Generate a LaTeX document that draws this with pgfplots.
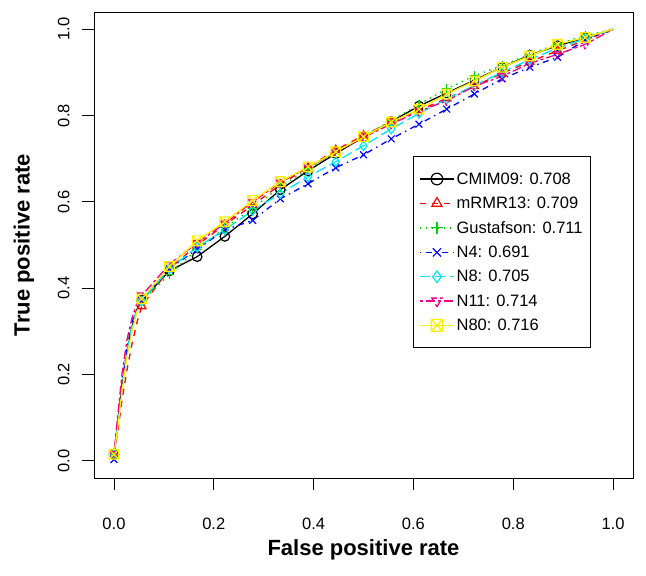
\documentclass[border=0pt]{standalone}
\usepackage{fontspec}
\setmainfont{Liberation Sans}
\usepackage{pgfplots}
\pgfplotsset{compat=1.18}
\pgfdeclareplotmark{boxx}{%
  \pgfpathrectangle{\pgfpoint{-\pgfplotmarksize}{-\pgfplotmarksize}}{\pgfpoint{2\pgfplotmarksize}{2\pgfplotmarksize}}%
  \pgfpathmoveto{\pgfpoint{-\pgfplotmarksize}{-\pgfplotmarksize}}\pgfpathlineto{\pgfpoint{\pgfplotmarksize}{\pgfplotmarksize}}%
  \pgfpathmoveto{\pgfpoint{-\pgfplotmarksize}{\pgfplotmarksize}}\pgfpathlineto{\pgfpoint{\pgfplotmarksize}{-\pgfplotmarksize}}%
  \pgfusepathqstroke}
\definecolor{rgreen}{RGB}{0,205,0}
\definecolor{rcyan}{RGB}{0,230,240}
\definecolor{ryellow}{RGB}{255,240,0}
\begin{document}
\begin{tikzpicture}
\begin{axis}[
  scale only axis, width=539pt, height=466pt,
  xmin=-0.04, xmax=1.04, ymin=-0.04, ymax=1.04,
  xtick={0,0.2,0.4,0.6,0.8,1}, ytick={0,0.2,0.4,0.6,0.8,1},
  xtick pos=bottom, ytick pos=left,
  tick align=outside, major tick length=12pt,
  tick style={black, line width=0.8pt},
  axis line style={line width=0.8pt},
  /pgf/number format/fixed, /pgf/number format/fixed zerofill, /pgf/number format/precision=1,
  /pgf/number format/assume math mode=true,
  ticklabel style={font=\fontsize{16.5}{16.5}\selectfont},
  xticklabel style={anchor=north, yshift=-24pt},
  yticklabel style={rotate=90, anchor=south, xshift=0pt, yshift=9pt},
  xlabel={\bfseries False positive rate},
  ylabel={\bfseries True positive rate},
  xlabel style={at={(axis description cs:0.5,-0.1545)}, anchor=center, font=\fontsize{22}{22}\selectfont},
  ylabel style={at={(axis description cs:-0.1300,0.5)}, anchor=center, font=\fontsize{22}{22}\selectfont},
  legend style={at={(axis cs:0.599,0.706)}, anchor=north west, draw=black, line width=0.8pt,
    font=\fontsize{16.5}{16.5}\selectfont, inner xsep=6pt, inner ysep=14pt, row sep=7.3pt,
    /tikz/every even column/.append style={column sep=5pt}},
  legend cell align=left,
  legend image code/.code={\draw[#1, mark indices={2}, mark size=5.8pt] plot coordinates {(0pt,0pt) (17pt,0pt) (34pt,0pt)};},
  every axis plot/.append style={line width=1.3pt, mark size=4.8pt, mark options={solid, line width=1.2pt}},
  mark indices={1,7,8,9,10,11,12,13,14,15,16,17,18,19,20,21,22,23},
]
\addplot[black, mark=o] coordinates {
(0,0.015)(0.008,0.09)(0.016,0.17)(0.026,0.25)(0.036,0.31)(0.046,0.35)
(0.0556,0.372)(0.1111,0.44)(0.1667,0.473)(0.2222,0.52)(0.2778,0.572)(0.3333,0.628)
(0.3889,0.672)(0.4444,0.712)(0.5,0.75)(0.5556,0.786)(0.6111,0.822)(0.6667,0.852)
(0.7222,0.882)(0.7778,0.912)(0.8333,0.94)(0.8889,0.962)(0.9444,0.98)(1,1)};
\addlegendentry{CMIM09: 0.708}
\addplot[red, mark=triangle, dash pattern=on 6pt off 6pt] coordinates {
(0,0.015)(0.008,0.07)(0.016,0.14)(0.026,0.21)(0.036,0.27)(0.046,0.32)
(0.0556,0.358)(0.1111,0.445)(0.1667,0.5)(0.2222,0.547)(0.2778,0.592)(0.3333,0.64)
(0.3889,0.68)(0.4444,0.72)(0.5,0.754)(0.5556,0.785)(0.6111,0.812)(0.6667,0.84)
(0.7222,0.868)(0.7778,0.898)(0.8333,0.925)(0.8889,0.95)(0.9444,0.975)(1,1)};
\addlegendentry{mRMR13: 0.709}
\addplot[rgreen, mark=+, dash pattern=on 1.5pt off 4.5pt] coordinates {
(0,0.015)(0.008,0.09)(0.016,0.17)(0.026,0.25)(0.036,0.31)(0.046,0.35)
(0.0556,0.37)(0.1111,0.432)(0.1667,0.49)(0.2222,0.54)(0.2778,0.585)(0.3333,0.635)
(0.3889,0.676)(0.4444,0.716)(0.5,0.752)(0.5556,0.788)(0.6111,0.826)(0.6667,0.862)
(0.7222,0.892)(0.7778,0.916)(0.8333,0.942)(0.8889,0.966)(0.9444,0.985)(1,1)};
\addlegendentry{Gustafson: 0.711}
\addplot[blue, mark=x, dash pattern=on 1.5pt off 4.5pt on 6pt off 4.5pt] coordinates {
(0,0.003)(0.008,0.09)(0.016,0.18)(0.026,0.26)(0.036,0.32)(0.046,0.355)
(0.0556,0.372)(0.1111,0.445)(0.1667,0.49)(0.2222,0.535)(0.2778,0.557)(0.3333,0.607)
(0.3889,0.642)(0.4444,0.679)(0.5,0.709)(0.5556,0.746)(0.6111,0.78)(0.6667,0.815)
(0.7222,0.85)(0.7778,0.885)(0.8333,0.912)(0.8889,0.935)(0.9444,0.975)(1,1)};
\addlegendentry{N4: 0.691}
\addplot[rcyan, mark=diamond, dash pattern=on 10.5pt off 4.5pt] coordinates {
(0,0.015)(0.008,0.09)(0.016,0.17)(0.026,0.25)(0.036,0.31)(0.046,0.35)
(0.0556,0.37)(0.1111,0.445)(0.1667,0.495)(0.2222,0.535)(0.2778,0.58)(0.3333,0.619)
(0.3889,0.658)(0.4444,0.693)(0.5,0.73)(0.5556,0.769)(0.6111,0.805)(0.6667,0.838)
(0.7222,0.87)(0.7778,0.9)(0.8333,0.93)(0.8889,0.956)(0.9444,0.978)(1,1)};
\addlegendentry{N8: 0.705}
\addplot[magenta, mark=triangle, mark options={rotate=180}, dash pattern=on 3pt off 3pt on 9pt off 3pt] coordinates {
(0,0.015)(0.008,0.11)(0.016,0.2)(0.026,0.28)(0.036,0.33)(0.046,0.365)
(0.0556,0.383)(0.1111,0.455)(0.1667,0.505)(0.2222,0.55)(0.2778,0.6)(0.3333,0.645)
(0.3889,0.68)(0.4444,0.715)(0.5,0.75)(0.5556,0.78)(0.6111,0.81)(0.6667,0.834)
(0.7222,0.868)(0.7778,0.891)(0.8333,0.921)(0.8889,0.942)(0.9444,0.965)(1,1)};
\addlegendentry{N11: 0.714}
\addplot[ryellow, mark=boxx] coordinates {
(0,0.015)(0.008,0.08)(0.016,0.16)(0.026,0.24)(0.036,0.3)(0.046,0.345)
(0.0556,0.375)(0.1111,0.45)(0.1667,0.51)(0.2222,0.554)(0.2778,0.603)(0.3333,0.647)
(0.3889,0.681)(0.4444,0.716)(0.5,0.751)(0.5556,0.785)(0.6111,0.815)(0.6667,0.85)
(0.7222,0.88)(0.7778,0.912)(0.8333,0.938)(0.8889,0.965)(0.9444,0.981)(1,1)};
\addlegendentry{N80: 0.716}
\end{axis}
\pgfresetboundingbox
\path[use as bounding box] (current axis.south west) ++(-94pt,-98pt) rectangle ++(646pt,576pt);
\end{tikzpicture}
\end{document}
